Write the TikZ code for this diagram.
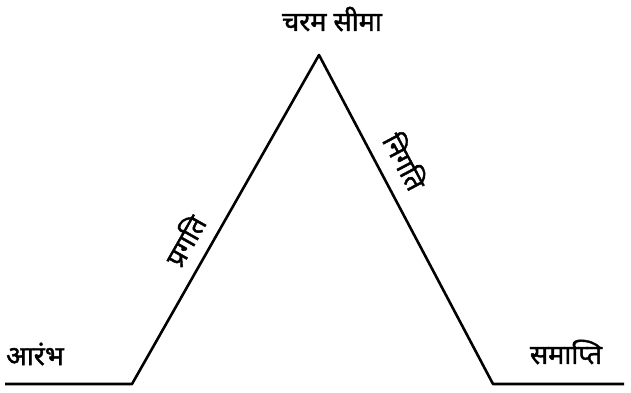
\documentclass[tikz,border=0pt]{standalone}
\usepackage{fontspec}
\newfontfamily\deva[Script=Devanagari, FakeBold=1.5]{Noto Sans}
\begin{document}
\begin{tikzpicture}[x=1pt,y=-1pt,
  lbl/.style={font=\deva\fontsize{27}{30}\selectfont, inner sep=0pt},
  curve/.style={line width=2.6pt, line join=round}]
\useasboundingbox (0,0) rectangle (631,392);
\coordinate (s) at (5,384);
\coordinate (a) at (132,384);
\coordinate (p) at (319,55);
\coordinate (b) at (493,384);
\coordinate (e) at (624,384);
\draw[curve] (s) -- (a) -- (p) -- (b) -- (e);
\node[lbl] (top) at (332,19) {चरम सीमा};
\node[lbl, rotate=60.4] (rise) at (184,240) {प्रगति};
\node[lbl, rotate=-62] (fall) at (406,161) {निगति};
\node[lbl] (start) at (35,354) {आरंभ};
\node[lbl] (end) at (566,352) {समाप्ति};
\end{tikzpicture}
\end{document}
